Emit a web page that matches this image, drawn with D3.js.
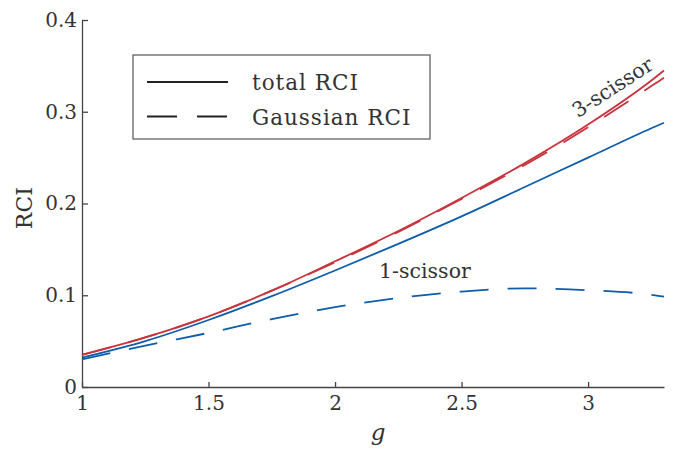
<!DOCTYPE html>
<html lang="en">
  <head>
    <meta charset="utf-8">
    <title>RCI vs g</title>
    <style>
      body { margin: 0; background: #fff; }
      svg text { fill: #333; }
      .axis path, .axis line { stroke: #444; stroke-width: 1.3px; }
      .line { fill: none; stroke-width: 1.8px; }
    </style>
  </head>
  <body>
    <svg id="wrapper" width="673" height="449"></svg>

    <script src="https://cdn.jsdelivr.net/npm/d3@7"></script>
    <script>
    const margin = {top: 20, right: 9, bottom: 62, left: 82};
    const serif = 'DejaVu Serif';

    const colorRed = '#c8343d';
    const colorBlue = '#0e5daa';

    const gValues = [1, 1.25, 1.5, 1.75, 2, 2.25, 2.5, 2.75, 3, 3.25, 3.3];

    // 3-scissor
    const total3 = [0.035, 0.054, 0.077, 0.105, 0.137, 0.170, 0.206, 0.244, 0.286, 0.334, 0.345];
    const gauss3 = [0.035, 0.054, 0.077, 0.105, 0.136, 0.169, 0.205, 0.242, 0.283, 0.328, 0.337];
    // 1-scissor
    const total1 = [0.032, 0.050, 0.073, 0.099, 0.127, 0.156, 0.186, 0.218, 0.250, 0.282, 0.288];
    const gauss1 = [0.030, 0.045, 0.059, 0.074, 0.087, 0.097, 0.104, 0.1075, 0.1055, 0.1005, 0.0985];

    const xTicks = [1, 1.5, 2, 2.5, 3];
    const yTicks = [0, 0.1, 0.2, 0.3, 0.4];

    const series = [
      {values: total1, color: colorBlue, dashed: false},
      {values: gauss1, color: colorBlue, dashed: true},
      {values: gauss3, color: colorRed, dashed: true},
      {values: total3, color: colorRed, dashed: false}
    ];

    const dash = '29,19';

    let svg = d3.select('#wrapper');
    let width = +svg.attr('width') - margin.left - margin.right;
    let height = +svg.attr('height') - margin.top - margin.bottom;

    let g = svg.append('g')
      .attr('transform', 'translate(' + margin.left + ',' + margin.top + ')');

    let x = d3.scaleLinear().domain([1, 3.3]).range([0, width]);
    let y = d3.scaleLinear().domain([0, 0.4]).range([height, 0]);

    // x-axis, ticks pointing in
    g.append('g')
      .attr('class', 'axis axis-x')
      .attr('transform', 'translate(0,' + height + ')')
      .call(d3.axisBottom(x).tickValues(xTicks).tickSizeInner(-5).tickSizeOuter(0).tickPadding(9)
        .tickFormat(d3.format('')));

    // y-axis
    g.append('g')
      .attr('class', 'axis axis-y')
      .call(d3.axisLeft(y).tickValues(yTicks).tickSizeInner(-6).tickSizeOuter(0).tickPadding(5)
        .tickFormat(d => d === 0 ? '0' : d3.format('.1f')(d)));

    g.selectAll('.axis').attr('font-family', serif).attr('font-size', 20);
    g.selectAll('.axis .domain').attr('stroke', '#444');
    g.selectAll('.axis text').attr('fill', '#333');

    // the curves
    let line = d3.line()
      .x((d, i) => x(gValues[i]))
      .y(d => y(d))
      .curve(d3.curveMonotoneX);

    series.forEach(function(s) {
      g.append('path')
        .datum(s.values)
        .attr('class', 'line')
        .attr('stroke', s.color)
        .attr('stroke-dasharray', s.dashed ? dash : null)
        .attr('d', line);
    });

    // axis labels
    svg.append('text')
      .attr('x', margin.left + x(2.17))
      .attr('y', 440)
      .attr('text-anchor', 'middle')
      .attr('font-family', serif)
      .style('font-size', '23px')
      .style('font-style', 'italic')
      .text('g');

    svg.append('text')
      .attr('transform', 'translate(32,' + (margin.top + y(0.195)) + ') rotate(-90)')
      .attr('text-anchor', 'middle')
      .attr('font-family', serif)
      .style('font-size', '22px')
      .text('RCI');

    // curve labels
    g.append('text')
      .attr('x', x(2.174))
      .attr('y', y(0.119))
      .attr('font-family', serif)
      .style('font-size', '20.5px')
      .text('1-scissor');

    g.append('text')
      .attr('transform', 'translate(' + x(2.96) + ',' + y(0.293) + ') rotate(-33)')
      .attr('font-family', serif)
      .style('font-size', '20.5px')
      .text('3-scissor');

    // legend
    let legend = svg.append('g').attr('transform', 'translate(133,55)');
    legend.append('rect')
      .attr('width', 297).attr('height', 84)
      .attr('fill', '#fff').attr('stroke', '#555').attr('stroke-width', 1.2);

    const legendItems = [
      {label: 'total RCI', dashed: false},
      {label: 'Gaussian RCI', dashed: true}
    ];
    legendItems.forEach(function(item, i) {
      let yy = 27 + i * 34.5;
      legend.append('line')
        .attr('x1', 14).attr('x2', 95).attr('y1', yy).attr('y2', yy)
        .attr('stroke', '#222').attr('stroke-width', 1.8)
        .attr('stroke-dasharray', item.dashed ? '30,20' : null);
      legend.append('text')
        .attr('x', 119).attr('y', yy + 8)
        .attr('font-family', serif)
        .style('font-size', '21.5px')
        .style('letter-spacing', '1px')
        .text(item.label);
    });
    </script>
  </body>
</html>
